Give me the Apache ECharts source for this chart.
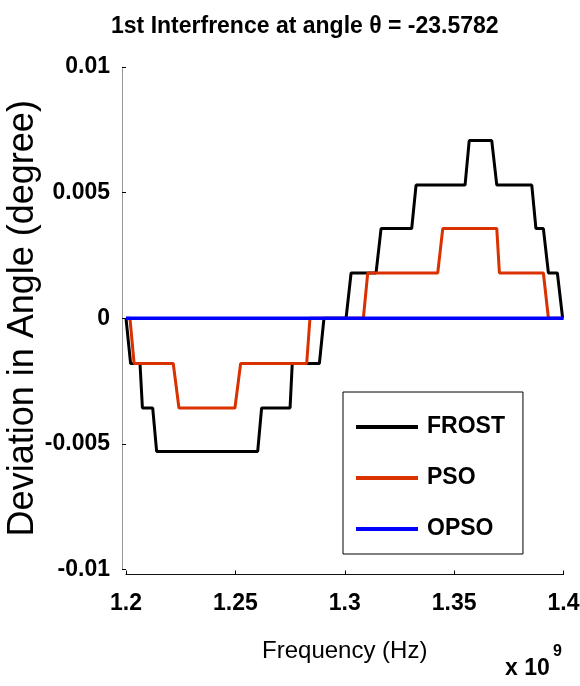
<!DOCTYPE html>
<html>
<head>
<meta charset="utf-8">
<script src="https://cdn.jsdelivr.net/npm/echarts@6/dist/echarts.min.js"></script>
<style>
html,body{margin:0;padding:0;background:#fff;}
#chart{width:580px;height:686px;}
</style>
</head>
<body>
<div id="chart"></div>
<script>
// Frequency in units of 1e9 Hz (axis shows "x 10^9")
var frostFreq = [1.2000, 1.2021, 1.2064, 1.2075, 1.2122, 1.2140, 1.2602, 1.2620, 1.2750, 1.2760, 1.2884, 1.2905,
                 1.3006, 1.3029, 1.3143, 1.3166, 1.3306, 1.3326, 1.3550, 1.3569, 1.3672, 1.3695, 1.3855, 1.3874,
                 1.3908, 1.3931, 1.3972, 1.3996];
var frostDev  = [0, -0.0018, -0.0018, -0.00357, -0.00357, -0.0053, -0.0053, -0.00357, -0.00357, -0.0018, -0.0018, 0,
                 0, 0.0018, 0.0018, 0.00357, 0.00357, 0.0053, 0.0053, 0.00707, 0.00707, 0.0053, 0.0053, 0.00357,
                 0.00357, 0.0018, 0.0018, 0];

var psoFreq = [1.2000, 1.2018, 1.2037, 1.2216, 1.2242, 1.2498, 1.2524, 1.2826, 1.2841, 1.3085, 1.3105, 1.3425,
               1.3448, 1.3695, 1.3707, 1.3908, 1.3931, 1.4000];
var psoDev  = [0, 0, -0.0018, -0.0018, -0.00357, -0.00357, -0.0018, -0.0018, 0, 0, 0.0018, 0.0018,
               0.00357, 0.00357, 0.0018, 0.0018, 0, 0];

var opsoFreq = [1.2000, 1.4000];
var opsoDev  = [0, 0];

var xTicks = [1.2, 1.25, 1.3, 1.35, 1.4];
var yTicks = [-0.01, -0.005, 0, 0.005, 0.01];

var seriesNames = ['FROST', 'PSO', 'OPSO'];
var seriesColors = ['#000000', '#d93100', '#0000ff'];

function pairs(xs, ys) { return xs.map(function (x, i) { return [x, ys[i]]; }); }

var sans = '"Liberation Sans", Arial, sans-serif';

var chart = echarts.init(document.getElementById('chart'), null, {renderer: 'canvas'});
chart.setOption({
  animation: false,
  backgroundColor: '#ffffff',
  title: {
    text: '1st Interfrence at angle \u03b8 = -23.5782',
    left: 106, top: 10,
    textStyle: {fontFamily: sans, fontWeight: 'bold', fontSize: 23, color: '#000'}
  },
  grid: {left: 126, right: 16.5, top: 67, bottom: 116.5, containLabel: false, outerBoundsMode: 'none'},
  legend: {
    orient: 'vertical',
    left: 343, top: 392,
    padding: [20, 18, 10, 13],
    itemGap: 21,
    itemWidth: 62, itemHeight: 4,
    icon: 'rect',
    borderColor: '#000', borderWidth: 1,
    backgroundColor: '#fff',
    textStyle: {fontFamily: sans, fontWeight: 'bold', fontSize: 23, color: '#000', lineHeight: 30, padding: [0, 0, 0, 4]},
    data: seriesNames
  },
  xAxis: {
    type: 'value',
    min: xTicks[0], max: xTicks[xTicks.length - 1], interval: 0.05,
    offset: 5,
    name: 'Frequency (Hz)', nameLocation: 'middle', nameGap: 65, nameMoveOverlap: false,
    nameTextStyle: {fontFamily: sans, fontSize: 24, color: '#000'},
    axisLine: {show: true, onZero: false, lineStyle: {color: '#111', width: 1}},
    axisTick: {show: true, inside: true, length: 4, lineStyle: {color: '#000'}},
    axisLabel: {margin: 18, fontFamily: sans, fontWeight: 'bold', fontSize: 23, color: '#000',
      formatter: function (v) { return String(+v.toFixed(4)); }},
    splitLine: {show: false}
  },
  yAxis: {
    type: 'value',
    min: yTicks[0], max: yTicks[yTicks.length - 1], interval: 0.005,
    offset: 4,
    name: 'Deviation in Angle (degree)', nameLocation: 'middle', nameGap: 81, nameRotate: 90, nameMoveOverlap: false,
    nameTextStyle: {fontFamily: sans, fontSize: 36, color: '#000'},
    axisLine: {show: true, onZero: false, lineStyle: {color: '#999', width: 1}},
    axisTick: {show: true, inside: true, length: 4, lineStyle: {color: '#000'}},
    axisLabel: {margin: 12, fontFamily: sans, fontWeight: 'bold', fontSize: 23, color: '#000',
      formatter: function (v) { return String(+v.toFixed(4)); }},
    splitLine: {show: false}
  },
  graphic: [
    {type: 'text', left: 505, top: 657, style: {text: 'x 10', fontFamily: sans, fontWeight: 'bold', fontSize: 23, fill: '#000'}},
    {type: 'text', left: 553, top: 644, style: {text: '9', fontFamily: sans, fontWeight: 'bold', fontSize: 16, fill: '#000'}}
  ],
  series: [
    {name: seriesNames[0], type: 'line', data: pairs(frostFreq, frostDev), showSymbol: false, symbol: 'none',
     lineStyle: {color: seriesColors[0], width: 3}, itemStyle: {color: seriesColors[0]}, z: 2},
    {name: seriesNames[1], type: 'line', data: pairs(psoFreq, psoDev), showSymbol: false, symbol: 'none',
     lineStyle: {color: seriesColors[1], width: 3}, itemStyle: {color: seriesColors[1]}, z: 3},
    {name: seriesNames[2], type: 'line', data: pairs(opsoFreq, opsoDev), showSymbol: false, symbol: 'none',
     lineStyle: {color: seriesColors[2], width: 3.5}, itemStyle: {color: seriesColors[2]}, z: 4}
  ]
});
</script>
</body>
</html>
